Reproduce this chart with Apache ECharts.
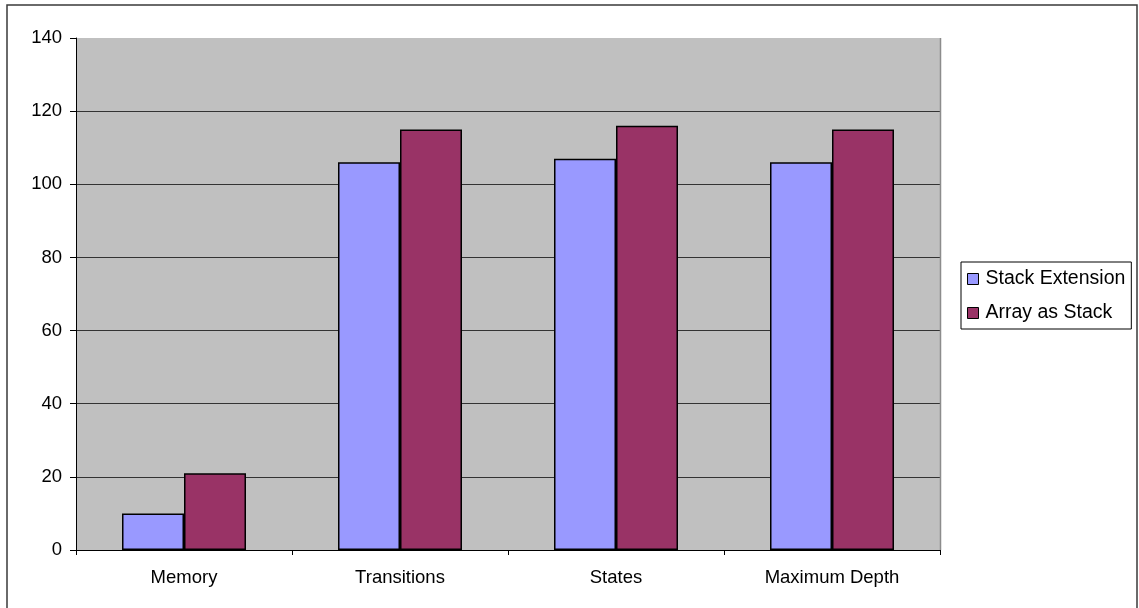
<!DOCTYPE html>
<html>
<head>
<meta charset="utf-8">
<script src="https://cdn.jsdelivr.net/npm/echarts@6/dist/echarts.min.js"></script>
<style>
  html, body { margin: 0; padding: 0; background: #ffffff; }
  #chart { width: 1139px; height: 608px; }
</style>
</head>
<body>
<div id="chart"></div>
<script>
// Category names along the x axis
const categories = ['Memory', 'Transitions', 'States', 'Maximum Depth'];

// Series values
const stackExtension = [10, 106, 107, 106];
const arrayAsStack = [21, 115, 116, 115];

// Value axis range
const yMin = 0;
const yMax = 140;
const yStep = 20;

const FONT = 'Liberation Sans, Arial, sans-serif';

// Plot area placement
const PLOT = { left: 76, top: 38, right: 199, bottom: 58 };
const W = 1139, H = 608;

const chart = echarts.init(document.getElementById('chart'), null, { renderer: 'canvas' });

const barStyle = (color) => ({
  color: color,
  borderColor: '#000000',
  borderWidth: 1.5
});

chart.setOption({
  animation: false,
  backgroundColor: '#ffffff',
  graphic: [
    {
      // outer chart frame
      type: 'rect',
      shape: { x: 7, y: 5, width: 1130, height: 620 },
      style: { fill: 'none', stroke: '#3a3a3a', lineWidth: 1.5 },
      silent: true,
      z: -1
    },
    {
      // right edge of the plot area
      type: 'line',
      shape: { x1: W - PLOT.right + 0.5, y1: PLOT.top, x2: W - PLOT.right + 0.5, y2: H - PLOT.bottom },
      style: { stroke: '#8c8c8c', lineWidth: 1.5 },
      silent: true,
      z: 10
    }
  ],
  grid: {
    left: PLOT.left,
    top: PLOT.top,
    right: PLOT.right,
    bottom: PLOT.bottom,
    show: true,
    backgroundColor: '#c0c0c0',
    borderWidth: 0
  },
  legend: {
    orient: 'vertical',
    left: 961,
    top: 262,
    padding: [7, 6, 6, 6],
    itemGap: 14,
    itemWidth: 11,
    itemHeight: 11,
    icon: 'rect',
    borderColor: '#000000',
    borderWidth: 1,
    borderRadius: 0,
    backgroundColor: '#ffffff',
    textStyle: {
      fontFamily: FONT,
      fontSize: 19.5,
      color: '#000000',
      lineHeight: 18,
      padding: [0, 0, 0, 2]
    },
    itemStyle: { borderColor: '#000000', borderWidth: 1 },
    data: ['Stack Extension', 'Array as Stack']
  },
  xAxis: {
    type: 'category',
    data: categories,
    boundaryGap: true,
    axisLine: { show: true, lineStyle: { color: '#000000', width: 1 } },
    axisTick: { show: true, alignWithLabel: false, length: 5, lineStyle: { color: '#000000' } },
    axisLabel: {
      fontFamily: FONT,
      fontSize: 18.5,
      color: '#000000',
      margin: 18
    },
    splitLine: { show: false }
  },
  yAxis: {
    type: 'value',
    min: yMin,
    max: yMax,
    interval: yStep,
    axisLine: { show: true, lineStyle: { color: '#000000', width: 1 } },
    axisTick: { show: true, length: 6, lineStyle: { color: '#000000' } },
    axisLabel: {
      fontFamily: FONT,
      fontSize: 18.5,
      color: '#000000',
      margin: 14
    },
    splitLine: { show: true, showMaxLine: false, lineStyle: { color: '#333333', width: 1 } }
  },
  series: [
    {
      name: 'Stack Extension',
      type: 'bar',
      data: stackExtension,
      barWidth: 62,
      barGap: '0%',
      itemStyle: barStyle('#9999ff')
    },
    {
      name: 'Array as Stack',
      type: 'bar',
      data: arrayAsStack,
      barWidth: 62,
      barGap: '0%',
      itemStyle: barStyle('#993366')
    }
  ]
});
</script>
</body>
</html>
